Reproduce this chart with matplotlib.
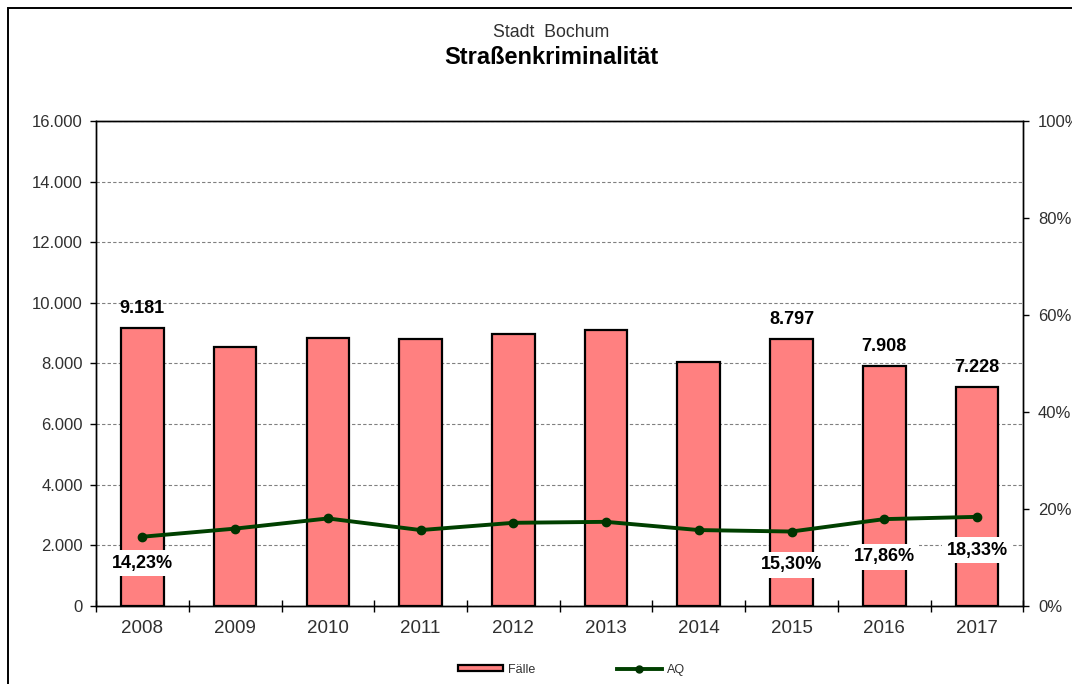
import matplotlib
matplotlib.use("Agg")
import matplotlib.pyplot as plt
import matplotlib.ticker as ticker
from matplotlib.patches import Rectangle
from matplotlib.lines import Line2D

plt.rcParams['font.family'] = ['Liberation Sans', 'DejaVu Sans']

# Data
years = ["2008", "2009", "2010", "2011", "2012", "2013", "2014", "2015", "2016", "2017"]
faelle = [9181, 8540, 8830, 8800, 8980, 9090, 8060, 8797, 7908, 7228]
aq = [14.23, 15.9, 18.0, 15.6, 17.1, 17.3, 15.6, 15.30, 17.86, 18.33]

# Which years get a value label
labelled = ["2008", "2015", "2016", "2017"]

TXT = "#303030"


def de_int(v):
    return f"{v:,.0f}".replace(",", ".")


def de_pct(v):
    return f"{v:.2f}".replace(".", ",") + "%"


fig = plt.figure(figsize=(10.72, 6.84), dpi=100)
ax = fig.add_axes([0.0896, 0.1145, 0.865, 0.7086])
ax2 = ax.twinx()

x = list(range(len(years)))

# Bars for Fälle
ax.bar(x, faelle, width=0.46, color="#FF8080", edgecolor="black",
       linewidth=1.6, zorder=2)

# Line for AQ on the right axis
ax2.plot(x, aq, color="#004000", linewidth=2.8, marker="o",
         markersize=6, markerfacecolor="#003300", markeredgecolor="#003300",
         zorder=3)

# Left axis
ax.set_xlim(-0.5, len(years) - 0.5)
ax.set_ylim(0, 16000)
ax.yaxis.set_major_locator(ticker.MultipleLocator(2000))
ax.yaxis.set_major_formatter(ticker.FuncFormatter(lambda v, p: de_int(v)))
ax.grid(axis="y", color="#808080", linestyle=(0, (3, 2)), linewidth=0.8, zorder=0)
ax.set_axisbelow(True)
ax.tick_params(axis="y", direction="out", length=4.5, width=1, labelsize=12,
               pad=5, labelcolor=TXT)

# Category ticks between the bars
ax.set_xticks(x)
ax.set_xticklabels(years)
ax.set_xticks([i - 0.5 for i in range(len(years) + 1)], minor=True)
ax.tick_params(axis="x", which="major", length=0, labelsize=13.5, pad=10,
               labelcolor=TXT)
ax.tick_params(axis="x", which="minor", direction="inout", length=8, width=1)

# Right axis
ax2.set_ylim(0, 100)
ax2.yaxis.set_major_locator(ticker.MultipleLocator(20))
ax2.yaxis.set_major_formatter(ticker.FuncFormatter(lambda v, p: f"{v:.0f}%"))
ax2.tick_params(axis="y", direction="out", length=4.5, width=1, labelsize=12,
                pad=6, labelcolor=TXT)

for a in (ax, ax2):
    for s in a.spines.values():
        s.set_linewidth(1.0)
        s.set_color("black")

# Value labels
aq_offsets = {"2008": -19, "2015": -24, "2016": -27, "2017": -24}
for i, yr in enumerate(years):
    if yr not in labelled:
        continue
    ax.annotate(de_int(faelle[i]), (i, faelle[i]), xytext=(0, 14),
                textcoords="offset points", ha="center", va="center",
                fontsize=13, fontweight="bold", zorder=5)
    ax2.annotate(de_pct(aq[i]), (i, aq[i]), xytext=(0, aq_offsets[yr]),
                 textcoords="offset points", ha="center", va="center",
                 fontsize=13, fontweight="bold", zorder=5,
                 bbox=dict(boxstyle="square,pad=0.25", fc="white", ec="none"))

# Titles
fig.text(0.514, 0.953, "Stadt  Bochum", ha="center", va="center", fontsize=12.8,
         color=TXT)
fig.text(0.514, 0.916, "Straßenkriminalität", ha="center", va="center",
         fontsize=17, fontweight="bold")

# Legend at the bottom
handles = [Rectangle((0, 0), 1, 1, facecolor="#FF8080", edgecolor="black", linewidth=1.6),
           Line2D([], [], color="#004000", linewidth=2.8, marker="o", markersize=5,
                  markerfacecolor="#003300", markeredgecolor="#003300")]
fig.legend(handles, ["Fälle", "AQ"], loc="center", bbox_to_anchor=(0.533, 0.021),
           ncol=2, frameon=False, fontsize=9, handlelength=3.6, handleheight=0.4,
           columnspacing=6.5, handletextpad=0.4, labelcolor=TXT)

# Outer chart frame
fig.patches.append(Rectangle((8 / 1072, -0.1), 1.2, 1 - 8 / 684 + 0.1,
                             transform=fig.transFigure, fill=False,
                             edgecolor="black", linewidth=1.4))

fig.savefig("out.png", dpi=100)
